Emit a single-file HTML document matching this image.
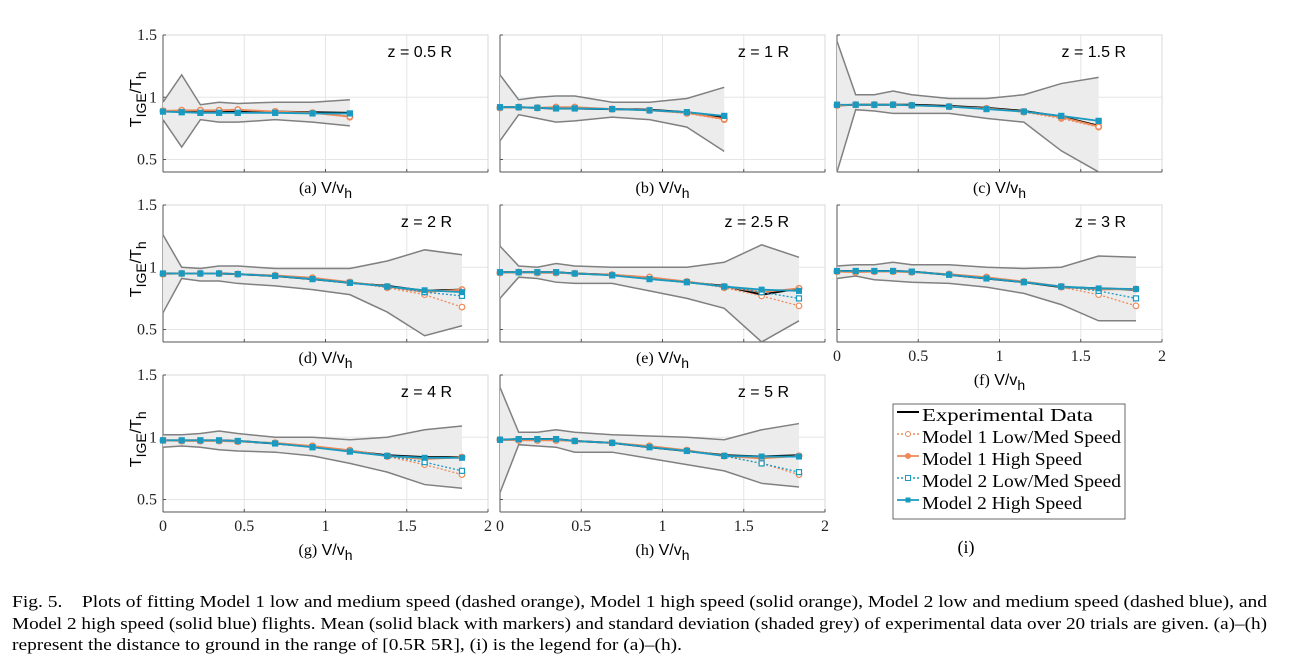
<!DOCTYPE html>
<html><head><meta charset="utf-8">
<style>
body{margin:0;background:#fff;}
svg{display:block;}
.tk{font-family:"Liberation Serif",serif;font-size:16px;fill:#222;}
.lab{font-family:"Liberation Sans",sans-serif;font-size:16px;fill:#000;}
.ser{font-family:"Liberation Serif",serif;fill:#000;}
</style></head>
<body>
<svg id="fig" width="1294" height="661" viewBox="0 0 1294 661" xmlns="http://www.w3.org/2000/svg">
<g id="plots"></g>
<g>
<rect x="893" y="404" width="232" height="115" fill="#fff" stroke="#444" stroke-width="0.8"/>
<line x1="897" y1="412" x2="919" y2="412" stroke="#000" stroke-width="2"/>
<text class="ser" x="922" y="421" font-size="18" textLength="171" lengthAdjust="spacingAndGlyphs">Experimental Data</text>
<line x1="897" y1="434" x2="919" y2="434" stroke="#ee8a5a" stroke-width="1.5" stroke-dasharray="2,2"/><circle cx="908" cy="434" r="2.5" fill="#fff" stroke="#ee8a5a"/>
<text class="ser" x="922" y="443" font-size="18" textLength="199" lengthAdjust="spacingAndGlyphs">Model 1 Low/Med Speed</text>
<line x1="897" y1="456" x2="919" y2="456" stroke="#ee8a5a" stroke-width="1.8"/><circle cx="908" cy="456" r="2.5" fill="#ee8a5a" stroke="#ee8a5a"/>
<text class="ser" x="922" y="465" font-size="18" textLength="160" lengthAdjust="spacingAndGlyphs">Model 1 High Speed</text>
<line x1="897" y1="478" x2="919" y2="478" stroke="#1a9ac0" stroke-width="1.5" stroke-dasharray="2,2"/><rect x="905.5" y="475.5" width="5" height="5" fill="#fff" stroke="#1a9ac0"/>
<text class="ser" x="922" y="487" font-size="18" textLength="199" lengthAdjust="spacingAndGlyphs">Model 2 Low/Med Speed</text>
<line x1="897" y1="500" x2="919" y2="500" stroke="#1a9ac0" stroke-width="1.8"/><rect x="905.5" y="497.5" width="5" height="5" fill="#1a9ac0"/>
<text class="ser" x="922" y="509" font-size="18" textLength="160" lengthAdjust="spacingAndGlyphs">Model 2 High Speed</text>
</g>
<text class="ser" x="966" y="553" font-size="18" text-anchor="middle">(i)</text>
<g class="ser" font-size="17">
<text x="12" y="607" textLength="1255" lengthAdjust="spacingAndGlyphs">Fig. 5.&#160;&#160;&#160; Plots of fitting Model 1 low and medium speed (dashed orange), Model 1 high speed (solid orange), Model 2 low and medium speed (dashed blue), and</text>
<text x="12" y="629" textLength="1255" lengthAdjust="spacingAndGlyphs">Model 2 high speed (solid blue) flights. Mean (solid black with markers) and standard deviation (shaded grey) of experimental data over 20 trials are given. (a)–(h)</text>
<text x="12" y="650" textLength="670" lengthAdjust="spacingAndGlyphs">represent the distance to ground in the range of [0.5R 5R], (i) is the legend for (a)–(h).</text>
</g>
</svg>
<script>
const speeds = [0,0.115,0.23,0.345,0.46,0.69,0.92,1.15,1.38,1.61,1.84];
const panelTitles = ["z = 0.5 R","z = 1  R","z = 1.5 R","z = 2  R","z = 2.5 R","z = 3  R","z = 4  R","z = 5  R"];
const panelLetters = ["a","b","c","d","e","f","g","h"];
const yTicks = [0.5,1,1.5];
const xTicks = [0,0.5,1,1.5,2];
const xTickLabels = ["0","0.5","1","1.5","2"];
const meanData = [
 [0.89,0.885,0.88,0.88,0.885,0.885,0.88,0.875],
 [0.92,0.92,0.915,0.91,0.91,0.905,0.9,0.88,0.84],
 [0.935,0.94,0.94,0.94,0.94,0.93,0.915,0.89,0.845,0.77],
 [0.95,0.95,0.95,0.95,0.945,0.93,0.905,0.875,0.85,0.81,0.82],
 [0.96,0.96,0.96,0.96,0.95,0.94,0.91,0.88,0.85,0.78,0.83],
 [0.97,0.97,0.97,0.97,0.965,0.94,0.91,0.88,0.84,0.83,0.82],
 [0.975,0.975,0.975,0.975,0.97,0.95,0.925,0.89,0.855,0.84,0.84],
 [0.98,0.985,0.985,0.985,0.97,0.955,0.92,0.89,0.855,0.845,0.855]];
const upperData = [
 [0.96,1.18,0.94,0.96,0.95,0.96,0.96,0.98],
 [1.18,0.98,1.0,1.01,1.01,0.96,0.96,0.99,1.08],
 [1.45,1.02,1.02,1.05,1.02,0.99,0.99,1.02,1.11,1.16],
 [1.26,1.0,0.99,1.01,1.01,0.99,0.99,0.99,1.05,1.14,1.10],
 [1.17,1.01,1.0,1.03,1.01,1.0,1.0,1.0,1.04,1.18,1.08],
 [1.01,1.02,1.02,1.04,1.02,1.02,1.0,0.99,1.0,1.09,1.08],
 [1.02,1.02,1.03,1.05,1.03,1.0,1.0,0.98,1.0,1.06,1.09],
 [1.40,1.04,1.04,1.06,1.04,1.02,1.01,1.0,0.98,1.06,1.11]];
const lowerData = [
 [0.82,0.60,0.82,0.80,0.80,0.82,0.80,0.77],
 [0.65,0.86,0.83,0.80,0.81,0.84,0.82,0.76,0.565],
 [0.40,0.90,0.89,0.87,0.87,0.87,0.83,0.80,0.57,0.40],
 [0.635,0.91,0.89,0.89,0.87,0.85,0.82,0.78,0.64,0.45,0.53],
 [0.75,0.92,0.91,0.88,0.87,0.87,0.81,0.75,0.67,0.40,0.57],
 [0.91,0.93,0.90,0.89,0.88,0.87,0.84,0.79,0.70,0.57,0.57],
 [0.92,0.93,0.92,0.90,0.89,0.88,0.85,0.79,0.72,0.62,0.59],
 [0.555,0.94,0.93,0.92,0.88,0.88,0.83,0.78,0.73,0.63,0.60]];
const model1Low = [
 [0.89,0.895,0.895,0.895,0.9,0.885,0.875,0.84],
 [0.915,0.92,0.915,0.92,0.92,0.905,0.895,0.87,0.82],
 [0.935,0.94,0.94,0.94,0.935,0.925,0.91,0.88,0.83,0.76],
 [0.945,0.95,0.95,0.95,0.945,0.935,0.915,0.88,0.835,0.78,0.68],
 [0.955,0.96,0.955,0.955,0.95,0.94,0.92,0.885,0.835,0.77,0.69],
 [0.965,0.96,0.965,0.965,0.96,0.945,0.92,0.885,0.84,0.78,0.69],
 [0.975,0.97,0.97,0.97,0.965,0.955,0.93,0.895,0.845,0.78,0.70],
 [0.98,0.975,0.975,0.975,0.97,0.955,0.93,0.895,0.85,0.79,0.70]];
const model1High = [
 [0.89,0.895,0.895,0.895,0.9,0.885,0.875,0.845],
 [0.915,0.92,0.915,0.92,0.92,0.905,0.895,0.875,0.825],
 [0.935,0.94,0.94,0.94,0.935,0.925,0.91,0.885,0.84,0.765],
 [0.945,0.95,0.95,0.95,0.945,0.935,0.915,0.88,0.845,0.80,0.82],
 [0.955,0.96,0.955,0.955,0.95,0.94,0.92,0.885,0.845,0.80,0.83],
 [0.965,0.96,0.965,0.965,0.96,0.945,0.92,0.885,0.845,0.82,0.825],
 [0.975,0.97,0.97,0.97,0.965,0.955,0.93,0.895,0.85,0.825,0.84],
 [0.98,0.975,0.975,0.975,0.97,0.955,0.93,0.895,0.85,0.83,0.85]];
const model2Low = [
 [0.885,0.88,0.875,0.875,0.875,0.875,0.87,0.87],
 [0.92,0.92,0.915,0.91,0.91,0.905,0.895,0.88,0.85],
 [0.94,0.94,0.94,0.94,0.935,0.925,0.905,0.885,0.85,0.81],
 [0.95,0.95,0.95,0.95,0.945,0.93,0.905,0.875,0.845,0.80,0.77],
 [0.96,0.96,0.96,0.96,0.95,0.935,0.905,0.88,0.845,0.80,0.75],
 [0.97,0.97,0.97,0.97,0.965,0.94,0.91,0.88,0.845,0.81,0.75],
 [0.975,0.975,0.975,0.975,0.97,0.95,0.92,0.885,0.85,0.80,0.73],
 [0.98,0.985,0.985,0.985,0.97,0.955,0.92,0.89,0.85,0.79,0.72]];
const model2High = [
 [0.885,0.88,0.875,0.875,0.875,0.875,0.87,0.87],
 [0.92,0.92,0.915,0.91,0.91,0.905,0.895,0.88,0.85],
 [0.94,0.94,0.94,0.94,0.935,0.925,0.905,0.885,0.85,0.81],
 [0.95,0.95,0.95,0.95,0.945,0.93,0.905,0.875,0.845,0.815,0.80],
 [0.96,0.96,0.96,0.96,0.95,0.935,0.905,0.88,0.845,0.82,0.81],
 [0.97,0.97,0.97,0.97,0.965,0.94,0.91,0.88,0.845,0.83,0.825],
 [0.975,0.975,0.975,0.975,0.97,0.95,0.92,0.885,0.85,0.835,0.835],
 [0.98,0.985,0.985,0.985,0.97,0.955,0.92,0.89,0.85,0.845,0.845]];

const NS="http://www.w3.org/2000/svg";
const root=document.getElementById('plots');
const colX=[163,500,837], rowY=[35,205,375], W=325, PU=124.5;
function mk(tag,attrs,parent){const e=document.createElementNS(NS,tag);for(const k in attrs)e.setAttribute(k,attrs[k]);parent.appendChild(e);return e;}
const ORANGE="#ee8a5a", BLUE="#1a9ac0";
for(let p=0;p<8;p++){
  const c=p%3, r=Math.floor(p/3);
  const x0=colX[c], y0=rowY[r];
  const xs=v=>x0+v/2*W, ys=v=>y0+(1.5-v)*PU;
  const g=mk('g',{},root);
  
  
  const yb=ys(0.4);
  mk('rect',{x:x0,y:y0,width:W,height:yb-y0,fill:'#fff'},g);
  xTicks.forEach(t=>mk('line',{x1:xs(t),x2:xs(t),y1:y0,y2:yb,stroke:'#e6e6e6','stroke-width':1},g));
  yTicks.forEach(t=>mk('line',{x1:x0,x2:x0+W,y1:ys(t),y2:ys(t),stroke:'#e6e6e6','stroke-width':1},g));
  mk('rect',{x:x0,y:y0,width:W,height:yb-y0,fill:'none',stroke:'#d8d8d8','stroke-width':1},g);
  mk('line',{x1:x0,x2:x0,y1:y0,y2:yb,stroke:'#555','stroke-width':1},g);
  mk('line',{x1:x0,x2:x0+W,y1:yb,y2:yb,stroke:'#555','stroke-width':1},g);
  xTicks.forEach(t=>mk('line',{x1:xs(t),x2:xs(t),y1:yb,y2:yb-3,stroke:'#555'},g));
  yTicks.forEach(t=>mk('line',{x1:x0,x2:x0+3,y1:ys(t),y2:ys(t),stroke:'#555'},g));
  const n=meanData[p].length, xv=speeds.slice(0,n);
  let d='';
  for(let i=0;i<n;i++)d+=(i?'L':'M')+xs(xv[i])+','+ys(upperData[p][i]);
  for(let i=n-1;i>=0;i--)d+='L'+xs(xv[i])+','+ys(lowerData[p][i]);
  const band=mk('path',{d:d+'Z',fill:'#ececec',stroke:'none'},g);
  
  
  const line=(arr,col,w,dash)=>{const pts=arr.map((v,i)=>xs(xv[i])+','+ys(v)).join(' ');const l=mk('polyline',{points:pts,fill:'none',stroke:col,'stroke-width':w},g);if(dash)l.setAttribute('stroke-dasharray',dash);return l;};
  const ub=line(upperData[p],'#808080',1.5);
  const lb=line(lowerData[p],'#808080',1.5);
  const m=line(meanData[p],'#000',2);
  const a=line(model1Low[p],ORANGE,1.3,'2,2');
  const b=line(model1High[p],ORANGE,1.8);
  const cc=line(model2Low[p],BLUE,1.3,'2,2');
  const dd=line(model2High[p],BLUE,1.8);
  for(let i=0;i<n;i++){
    mk('circle',{cx:xs(xv[i]),cy:ys(model1Low[p][i]),r:2.8,fill:'#fff',stroke:ORANGE,'stroke-width':1.2},g);
    mk('circle',{cx:xs(xv[i]),cy:ys(model1High[p][i]),r:2.8,fill:'none',stroke:ORANGE,'stroke-width':1.5},g);
    mk('rect',{x:xs(xv[i])-2.5,y:ys(model2Low[p][i])-2.5,width:5,height:5,fill:'#fff',stroke:BLUE,'stroke-width':1.2},g);
    mk('rect',{x:xs(xv[i])-3,y:ys(model2High[p][i])-3,width:6,height:6,fill:BLUE},g);
  }
  const tt=mk('text',{x:x0+W-36,y:y0+22,'text-anchor':'end',class:'lab','font-size':18},g);
  tt.textContent=panelTitles[p];
  
  
  if(c===0){
    yTicks.forEach(t=>{const e=mk('text',{x:x0-6,y:ys(t)+5,'text-anchor':'end',class:'tk'},g);e.textContent=String(t);});
    const yl=mk('text',{transform:'translate('+(x0-22)+','+(ys(1)+2)+') rotate(-90)','text-anchor':'middle',class:'lab','font-size':19},g);
    yl.innerHTML='T<tspan font-size="14" dy="5">IGE</tspan><tspan dy="-5">/T</tspan><tspan font-size="14" dy="5">h</tspan>';
    
    
  }
  const hasX=(p>=5);
  if(hasX){
    xTicks.forEach((t,i)=>{const e=mk('text',{x:xs(t),y:yb+19,'text-anchor':'middle',class:'tk'},g);e.textContent=xTickLabels[i];});
  }
  const lx=x0+W/2, ly=hasX?yb+43:yb+21;
  const xl=mk('text',{x:lx,y:ly,'text-anchor':'middle',class:'lab','font-size':19},g);
  xl.innerHTML='<tspan font-family="Liberation Serif">('+panelLetters[p]+')</tspan>  V/v<tspan font-size="14" dy="5">h</tspan>';
  
  
}
</script>
</body></html>
